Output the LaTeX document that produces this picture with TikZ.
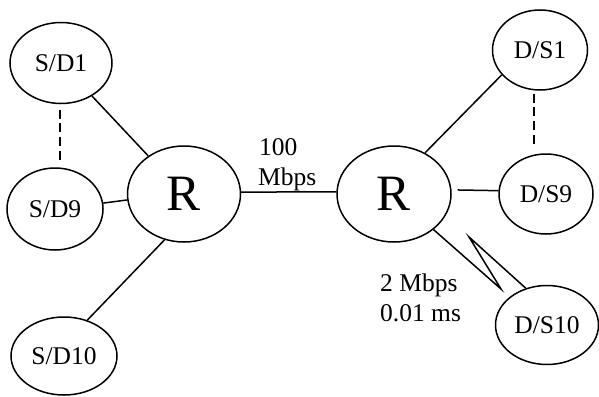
\documentclass[tikz,border=0pt]{standalone}
\usepackage{fontspec}
\setmainfont{Liberation Serif}
\usetikzlibrary{shapes.geometric}
\begin{document}
\begin{tikzpicture}[x=1pt,y=-1pt,
  every node/.style={inner sep=0pt},
  host/.style={draw,ellipse,line width=1.5pt,font=\fontsize{25.5}{30}\selectfont},
  router/.style={draw,ellipse,line width=1.5pt,font=\fontsize{51}{56}\selectfont},
  link/.style={line width=1.5pt},
  dashlink/.style={line width=1.5pt,dash pattern=on 9pt off 4.6pt},
  lbl/.style={anchor=base west,font=\fontsize{25.5}{30}\selectfont}]
\useasboundingbox (0,0) rectangle (599,396);
\node[host,minimum width=102pt,minimum height=81pt] (sd1) at (61,63) {S/D1};
\node[host,minimum width=96pt,minimum height=82pt] (sd9) at (55,209) {S/D9};
\node[host,minimum width=106pt,minimum height=78pt] (sd10) at (64,356) {S/D10};
\node[router,minimum width=113pt,minimum height=96pt] (r1) at (184,194) {R};
\node[router,minimum width=114pt,minimum height=96pt] (r2) at (394,194) {R};
\node[host,minimum width=95pt,minimum height=80pt] (ds1) at (540,50) {D/S1};
\node[host,minimum width=94pt,minimum height=80pt] (ds9) at (546,194) {D/S9};
\node[host,minimum width=103pt,minimum height=79pt] (ds10) at (547,325) {D/S10};
\node[lbl] (la) at (259,155) {100};
\node[lbl] (lb) at (258,185) {Mbps};
\node[lbl] (lc) at (380,291) {2 Mbps};
\node[lbl] (ld) at (380,321) {0.01 ms};
\coordinate (z1) at (501,289);
\coordinate (z2) at (469,237);
\draw[link] (sd1) -- (r1);
\draw[link] (sd9.7) -- (r1.186.6);
\draw[link] (r1.247.75) -- (sd10.57);
\draw[link] (r1.2) -- (r2.178);
\draw[link] (r2.53.6) -- (ds1.213.7);
\draw[link] ([xshift=6pt]r2.4) -- (ds9.176);
\draw[link] (r2.318) -- (z1) -- (z2) -- (ds10.120.7);
\draw[dashlink] ([xshift=-1pt,yshift=-5.5pt]sd1.south) -- ++(0,50);
\draw[dashlink] ([xshift=-6pt,yshift=-3pt]ds1.south) -- ++(0,50);
\end{tikzpicture}
\end{document}
